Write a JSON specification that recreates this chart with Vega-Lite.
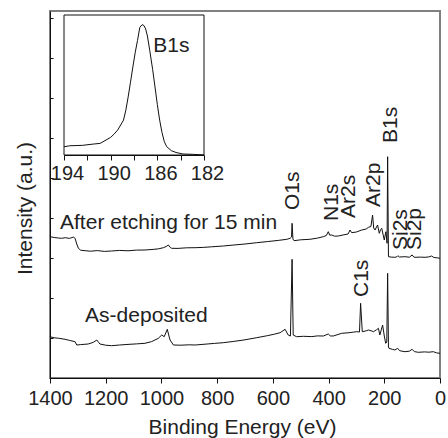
{
  "$schema": "https://vega.github.io/schema/vega-lite/v6.json",
  "width": 390,
  "height": 367,
  "autosize": "none",
  "padding": {"left": 50, "top": 11, "right": 8, "bottom": 60},
  "config": {
    "font": "Liberation Sans",
    "view": {"stroke": "#808080", "strokeWidth": 2},
    "axis": {"domainColor": "#111", "tickColor": "#111", "labelColor": "#222", "titleColor": "#222", "labelFont": "Liberation Sans", "titleFont": "Liberation Sans", "titleFontWeight": "normal", "grid": false}
  },
  "datasets": {
    "spectra": [
      {"sample": "etched", "energy": 1400, "intensity": 141.3}, {"sample": "etched", "energy": 1385, "intensity": 140.5}, {"sample": "etched", "energy": 1370, "intensity": 140.0}, {"sample": "etched", "energy": 1358, "intensity": 139.7}, {"sample": "etched", "energy": 1345, "intensity": 140.3}, {"sample": "etched", "energy": 1330, "intensity": 139.6}, {"sample": "etched", "energy": 1316, "intensity": 140.9}, {"sample": "etched", "energy": 1310, "intensity": 139.7}, {"sample": "etched", "energy": 1304, "intensity": 134}, {"sample": "etched", "energy": 1298, "intensity": 129.7}, {"sample": "etched", "energy": 1290, "intensity": 127.8}, {"sample": "etched", "energy": 1274, "intensity": 127.3}, {"sample": "etched", "energy": 1255, "intensity": 126.8}, {"sample": "etched", "energy": 1230, "intensity": 127.4}, {"sample": "etched", "energy": 1205, "intensity": 126.6}, {"sample": "etched", "energy": 1179, "intensity": 127}, {"sample": "etched", "energy": 1150, "intensity": 127.6}, {"sample": "etched", "energy": 1120, "intensity": 127.2}, {"sample": "etched", "energy": 1090, "intensity": 127.9}, {"sample": "etched", "energy": 1059, "intensity": 128}, {"sample": "etched", "energy": 1030, "intensity": 128.6}, {"sample": "etched", "energy": 1010, "intensity": 129.2}, {"sample": "etched", "energy": 993, "intensity": 130.3}, {"sample": "etched", "energy": 983, "intensity": 131.5}, {"sample": "etched", "energy": 975, "intensity": 133}, {"sample": "etched", "energy": 968, "intensity": 130.5}, {"sample": "etched", "energy": 963, "intensity": 129.7}, {"sample": "etched", "energy": 940, "intensity": 129.6}, {"sample": "etched", "energy": 910, "intensity": 130.2}, {"sample": "etched", "energy": 879, "intensity": 130.3}, {"sample": "etched", "energy": 850, "intensity": 130.6}, {"sample": "etched", "energy": 820, "intensity": 131.2}, {"sample": "etched", "energy": 778, "intensity": 132}, {"sample": "etched", "energy": 740, "intensity": 133}, {"sample": "etched", "energy": 700, "intensity": 134}, {"sample": "etched", "energy": 658, "intensity": 135.3}, {"sample": "etched", "energy": 620, "intensity": 136.4}, {"sample": "etched", "energy": 580, "intensity": 137.6}, {"sample": "etched", "energy": 550, "intensity": 138.7}, {"sample": "etched", "energy": 538, "intensity": 139.7}, {"sample": "etched", "energy": 533, "intensity": 141}, {"sample": "etched", "energy": 531, "intensity": 154.7}, {"sample": "etched", "energy": 528, "intensity": 139}, {"sample": "etched", "energy": 524, "intensity": 137.3}, {"sample": "etched", "energy": 500, "intensity": 138.2}, {"sample": "etched", "energy": 467, "intensity": 138.7}, {"sample": "etched", "energy": 440, "intensity": 139.9}, {"sample": "etched", "energy": 419, "intensity": 141.3}, {"sample": "etched", "energy": 408, "intensity": 142.5}, {"sample": "etched", "energy": 401, "intensity": 146.3}, {"sample": "etched", "energy": 396, "intensity": 142.8}, {"sample": "etched", "energy": 389, "intensity": 143}, {"sample": "etched", "energy": 378, "intensity": 141.8}, {"sample": "etched", "energy": 365, "intensity": 142}, {"sample": "etched", "energy": 345, "intensity": 143.2}, {"sample": "etched", "energy": 330, "intensity": 144}, {"sample": "etched", "energy": 323, "intensity": 148}, {"sample": "etched", "energy": 317, "intensity": 145.3}, {"sample": "etched", "energy": 300, "intensity": 146}, {"sample": "etched", "energy": 281, "intensity": 148}, {"sample": "etched", "energy": 265, "intensity": 149}, {"sample": "etched", "energy": 257, "intensity": 150.7}, {"sample": "etched", "energy": 248, "intensity": 151.5}, {"sample": "etched", "energy": 242, "intensity": 163}, {"sample": "etched", "energy": 238, "intensity": 150}, {"sample": "etched", "energy": 233, "intensity": 148}, {"sample": "etched", "energy": 228, "intensity": 151}, {"sample": "etched", "energy": 224, "intensity": 153}, {"sample": "etched", "energy": 218, "intensity": 144.7}, {"sample": "etched", "energy": 213, "intensity": 148.6}, {"sample": "etched", "energy": 209, "intensity": 149.7}, {"sample": "etched", "energy": 204, "intensity": 143}, {"sample": "etched", "energy": 200, "intensity": 138}, {"sample": "etched", "energy": 196, "intensity": 144}, {"sample": "etched", "energy": 194, "intensity": 146.3}, {"sample": "etched", "energy": 190, "intensity": 134.7}, {"sample": "etched", "energy": 188, "intensity": 221.3}, {"sample": "etched", "energy": 185, "intensity": 121.3}, {"sample": "etched", "energy": 175, "intensity": 120.9}, {"sample": "etched", "energy": 162, "intensity": 120.7}, {"sample": "etched", "energy": 155, "intensity": 121.2}, {"sample": "etched", "energy": 151, "intensity": 122.3}, {"sample": "etched", "energy": 146, "intensity": 121.0}, {"sample": "etched", "energy": 126, "intensity": 121.3}, {"sample": "etched", "energy": 110, "intensity": 120.8}, {"sample": "etched", "energy": 100, "intensity": 123}, {"sample": "etched", "energy": 94, "intensity": 120.9}, {"sample": "etched", "energy": 90, "intensity": 120.7}, {"sample": "etched", "energy": 70, "intensity": 120.9}, {"sample": "etched", "energy": 54, "intensity": 120.7}, {"sample": "etched", "energy": 40, "intensity": 121.1}, {"sample": "etched", "energy": 30, "intensity": 122}, {"sample": "etched", "energy": 22, "intensity": 120.5}, {"sample": "etched", "energy": 10, "intensity": 120.2}, {"sample": "etched", "energy": 0, "intensity": 119.7},
      {"sample": "asdep", "energy": 1400, "intensity": 41.3}, {"sample": "asdep", "energy": 1385, "intensity": 40.2}, {"sample": "asdep", "energy": 1370, "intensity": 39.8}, {"sample": "asdep", "energy": 1346, "intensity": 38.7}, {"sample": "asdep", "energy": 1330, "intensity": 37.6}, {"sample": "asdep", "energy": 1310, "intensity": 36.3}, {"sample": "asdep", "energy": 1304, "intensity": 33}, {"sample": "asdep", "energy": 1290, "intensity": 33.4}, {"sample": "asdep", "energy": 1263, "intensity": 34}, {"sample": "asdep", "energy": 1245, "intensity": 35.6}, {"sample": "asdep", "energy": 1232, "intensity": 38}, {"sample": "asdep", "energy": 1225, "intensity": 35.5}, {"sample": "asdep", "energy": 1221, "intensity": 34}, {"sample": "asdep", "energy": 1200, "intensity": 32.8}, {"sample": "asdep", "energy": 1179, "intensity": 32.3}, {"sample": "asdep", "energy": 1150, "intensity": 33}, {"sample": "asdep", "energy": 1120, "intensity": 33.6}, {"sample": "asdep", "energy": 1090, "intensity": 34.1}, {"sample": "asdep", "energy": 1059, "intensity": 34.7}, {"sample": "asdep", "energy": 1035, "intensity": 36.4}, {"sample": "asdep", "energy": 1011, "intensity": 39.7}, {"sample": "asdep", "energy": 999, "intensity": 43}, {"sample": "asdep", "energy": 990, "intensity": 41.3}, {"sample": "asdep", "energy": 979, "intensity": 48.7}, {"sample": "asdep", "energy": 972, "intensity": 41}, {"sample": "asdep", "energy": 969, "intensity": 38}, {"sample": "asdep", "energy": 957, "intensity": 33}, {"sample": "asdep", "energy": 930, "intensity": 32.8}, {"sample": "asdep", "energy": 900, "intensity": 33.2}, {"sample": "asdep", "energy": 879, "intensity": 33}, {"sample": "asdep", "energy": 840, "intensity": 33.9}, {"sample": "asdep", "energy": 810, "intensity": 34.6}, {"sample": "asdep", "energy": 778, "intensity": 35.3}, {"sample": "asdep", "energy": 740, "intensity": 36.6}, {"sample": "asdep", "energy": 700, "intensity": 38.2}, {"sample": "asdep", "energy": 658, "intensity": 40.3}, {"sample": "asdep", "energy": 620, "intensity": 42.3}, {"sample": "asdep", "energy": 595, "intensity": 43.8}, {"sample": "asdep", "energy": 574, "intensity": 45.3}, {"sample": "asdep", "energy": 556, "intensity": 48.7}, {"sample": "asdep", "energy": 545, "intensity": 43}, {"sample": "asdep", "energy": 537, "intensity": 42}, {"sample": "asdep", "energy": 531, "intensity": 118.7}, {"sample": "asdep", "energy": 527, "intensity": 43}, {"sample": "asdep", "energy": 515, "intensity": 41.3}, {"sample": "asdep", "energy": 490, "intensity": 41.7}, {"sample": "asdep", "energy": 460, "intensity": 41.4}, {"sample": "asdep", "energy": 440, "intensity": 42.1}, {"sample": "asdep", "energy": 419, "intensity": 42}, {"sample": "asdep", "energy": 401, "intensity": 44}, {"sample": "asdep", "energy": 394, "intensity": 42.1}, {"sample": "asdep", "energy": 383, "intensity": 42}, {"sample": "asdep", "energy": 353, "intensity": 44.7}, {"sample": "asdep", "energy": 330, "intensity": 45.2}, {"sample": "asdep", "energy": 310, "intensity": 45.9}, {"sample": "asdep", "energy": 299, "intensity": 46.3}, {"sample": "asdep", "energy": 289, "intensity": 46}, {"sample": "asdep", "energy": 285, "intensity": 74.7}, {"sample": "asdep", "energy": 279, "intensity": 46.3}, {"sample": "asdep", "energy": 265, "intensity": 47.2}, {"sample": "asdep", "energy": 257, "intensity": 48}, {"sample": "asdep", "energy": 245, "intensity": 47}, {"sample": "asdep", "energy": 239, "intensity": 46.3}, {"sample": "asdep", "energy": 228, "intensity": 48.2}, {"sample": "asdep", "energy": 221, "intensity": 49.7}, {"sample": "asdep", "energy": 216, "intensity": 43}, {"sample": "asdep", "energy": 206, "intensity": 53}, {"sample": "asdep", "energy": 200, "intensity": 42}, {"sample": "asdep", "energy": 195, "intensity": 34.7}, {"sample": "asdep", "energy": 191, "intensity": 36}, {"sample": "asdep", "energy": 188, "intensity": 104.7}, {"sample": "asdep", "energy": 185, "intensity": 31}, {"sample": "asdep", "energy": 183, "intensity": 29.7}, {"sample": "asdep", "energy": 170, "intensity": 28.6}, {"sample": "asdep", "energy": 162, "intensity": 28}, {"sample": "asdep", "energy": 152, "intensity": 29.7}, {"sample": "asdep", "energy": 145, "intensity": 27.3}, {"sample": "asdep", "energy": 126, "intensity": 26.3}, {"sample": "asdep", "energy": 110, "intensity": 26.8}, {"sample": "asdep", "energy": 100, "intensity": 28.7}, {"sample": "asdep", "energy": 92, "intensity": 26.4}, {"sample": "asdep", "energy": 78, "intensity": 25.7}, {"sample": "asdep", "energy": 55, "intensity": 26.1}, {"sample": "asdep", "energy": 40, "intensity": 25.8}, {"sample": "asdep", "energy": 24, "intensity": 26.3}, {"sample": "asdep", "energy": 12, "intensity": 25.1}, {"sample": "asdep", "energy": 0, "intensity": 24.7}
    ],
    "seriesLabels": [
      {"label": "After etching for 15 min", "energy": 1364, "intensity": 149},
      {"label": "As-deposited", "energy": 1274, "intensity": 56.3}
    ],
    "peakLabels": [
      {"label": "O1s", "energy": 506, "intensity": 168},
      {"label": "N1s", "energy": 366, "intensity": 157},
      {"label": "Ar2s", "energy": 305, "intensity": 160},
      {"label": "Ar2p", "energy": 215, "intensity": 171},
      {"label": "B1s", "energy": 154, "intensity": 235},
      {"label": "Si2s", "energy": 120, "intensity": 128},
      {"label": "Si2p", "energy": 69, "intensity": 128},
      {"label": "C1s", "energy": 258, "intensity": 81}
    ],
    "inset": [
      {"energy": 194, "value": 5.9}, {"energy": 193.5, "value": 6.6}, {"energy": 192.4, "value": 6.9}, {"energy": 191.5, "value": 7.8}, {"energy": 190.9, "value": 8.3}, {"energy": 190.0, "value": 12.6}, {"energy": 189.7, "value": 15}, {"energy": 189.4, "value": 17.8}, {"energy": 188.9, "value": 24.9}, {"energy": 188.7, "value": 32}, {"energy": 188.5, "value": 41.5}, {"energy": 188.3, "value": 52}, {"energy": 188.1, "value": 62.8}, {"energy": 187.9, "value": 73}, {"energy": 187.7, "value": 81.8}, {"energy": 187.5, "value": 91.2}, {"energy": 187.3, "value": 93.1}, {"energy": 187.15, "value": 92.5}, {"energy": 187.0, "value": 90.0}, {"energy": 186.85, "value": 85}, {"energy": 186.65, "value": 74.6}, {"energy": 186.4, "value": 61}, {"energy": 186.2, "value": 48.6}, {"energy": 186.0, "value": 36}, {"energy": 185.8, "value": 24.9}, {"energy": 185.6, "value": 16}, {"energy": 185.4, "value": 9.5}, {"energy": 185.2, "value": 6}, {"energy": 184.8, "value": 3.1}, {"energy": 184.4, "value": 1.8}, {"energy": 183.8, "value": 0.7}, {"energy": 183.0, "value": 0.5}, {"energy": 182.0, "value": 0}
    ],
    "insetLabel": [{"label": "B1s", "energy": 186.35, "value": 73.5}],
    "insetFrame": [{"e1": 194, "e2": 182, "v1": 0, "v2": 100}]
  },
  "layer": [
    {
      "layer": [
        {
          "data": {"name": "spectra"},
          "mark": {"type": "line", "color": "#111", "strokeWidth": 1},
          "encoding": {
            "x": {"field": "energy", "type": "quantitative", "scale": {"domain": [0, 1400], "reverse": true, "nice": false, "zero": false},
              "axis": {"orient": "bottom", "values": [0, 100, 200, 300, 400, 500, 600, 700, 800, 900, 1000, 1100, 1200, 1300, 1400], "labelExpr": "datum.value % 200 == 0 ? datum.label : ''", "format": "d", "tickSize": 5, "labelFontSize": 20, "labelPadding": 5, "labelFlush": false, "labelOverlap": false, "title": "Binding Energy (eV)", "titleFontSize": 21, "titleX": 192, "titleY": 55, "titleBaseline": "alphabetic"}},
            "y": {"field": "intensity", "type": "quantitative", "scale": {"domain": [0, 367], "nice": false, "zero": false},
              "axis": {"orient": "left", "values": [0, 10, 20, 30, 40, 50, 60, 70, 80, 90, 100, 110, 120, 130, 140, 150, 160, 170, 180, 190, 200, 210, 220, 230, 240, 250, 260, 270, 280, 290, 300, 310, 320, 330, 340, 350, 360], "labels": false, "tickSize": -3, "title": "Intensity (a.u.)", "titleFontSize": 21, "titleX": -18.5, "titleY": 197, "titleAngle": 270, "titleAlign": "center", "titleBaseline": "alphabetic"}},
            "detail": {"field": "sample"}
          }
        },
        {
          "data": {"name": "seriesLabels"},
          "mark": {"type": "text", "align": "left", "baseline": "alphabetic", "fontSize": 21, "color": "#222"},
          "encoding": {
            "x": {"field": "energy", "type": "quantitative"},
            "y": {"field": "intensity", "type": "quantitative"},
            "text": {"field": "label"}
          }
        },
        {
          "data": {"name": "peakLabels"},
          "mark": {"type": "text", "angle": 270, "align": "left", "baseline": "alphabetic", "fontSize": 21, "color": "#222"},
          "encoding": {
            "x": {"field": "energy", "type": "quantitative"},
            "y": {"field": "intensity", "type": "quantitative"},
            "text": {"field": "label"}
          }
        }
      ]
    },
    {
      "layer": [
        {
          "data": {"name": "inset"},
          "mark": {"type": "line", "color": "#111", "strokeWidth": 1},
          "encoding": {
            "x": {"field": "energy", "type": "quantitative", "scale": {"domain": [182, 194], "range": [154, 14], "nice": false, "zero": false},
              "axis": {"orient": "bottom", "offset": -223, "title": null, "values": [182, 184, 186, 188, 190, 192, 194], "labelExpr": "(194 - datum.value) % 4 == 0 ? datum.label : ''", "format": "d", "tickSize": 5, "labelFontSize": 20, "labelPadding": 3, "labelOffset": 3, "labelFlush": false, "labelOverlap": false}},
            "y": {"field": "value", "type": "quantitative", "scale": {"domain": [0, 100], "range": [144, 4], "nice": false, "zero": false}, "axis": null}
          }
        },
        {
          "data": {"name": "insetFrame"},
          "mark": {"type": "rect", "fillOpacity": 0, "stroke": "#111", "strokeWidth": 1},
          "encoding": {
            "x": {"field": "e1", "type": "quantitative"},
            "x2": {"field": "e2"},
            "y": {"field": "v1", "type": "quantitative"},
            "y2": {"field": "v2"}
          }
        },
        {
          "data": {"name": "insetLabel"},
          "mark": {"type": "text", "align": "left", "baseline": "alphabetic", "fontSize": 21, "color": "#222"},
          "encoding": {
            "x": {"field": "energy", "type": "quantitative"},
            "y": {"field": "value", "type": "quantitative"},
            "text": {"field": "label"}
          }
        }
      ]
    }
  ],
  "resolve": {"scale": {"x": "independent", "y": "independent"}, "axis": {"x": "independent", "y": "independent"}}
}
